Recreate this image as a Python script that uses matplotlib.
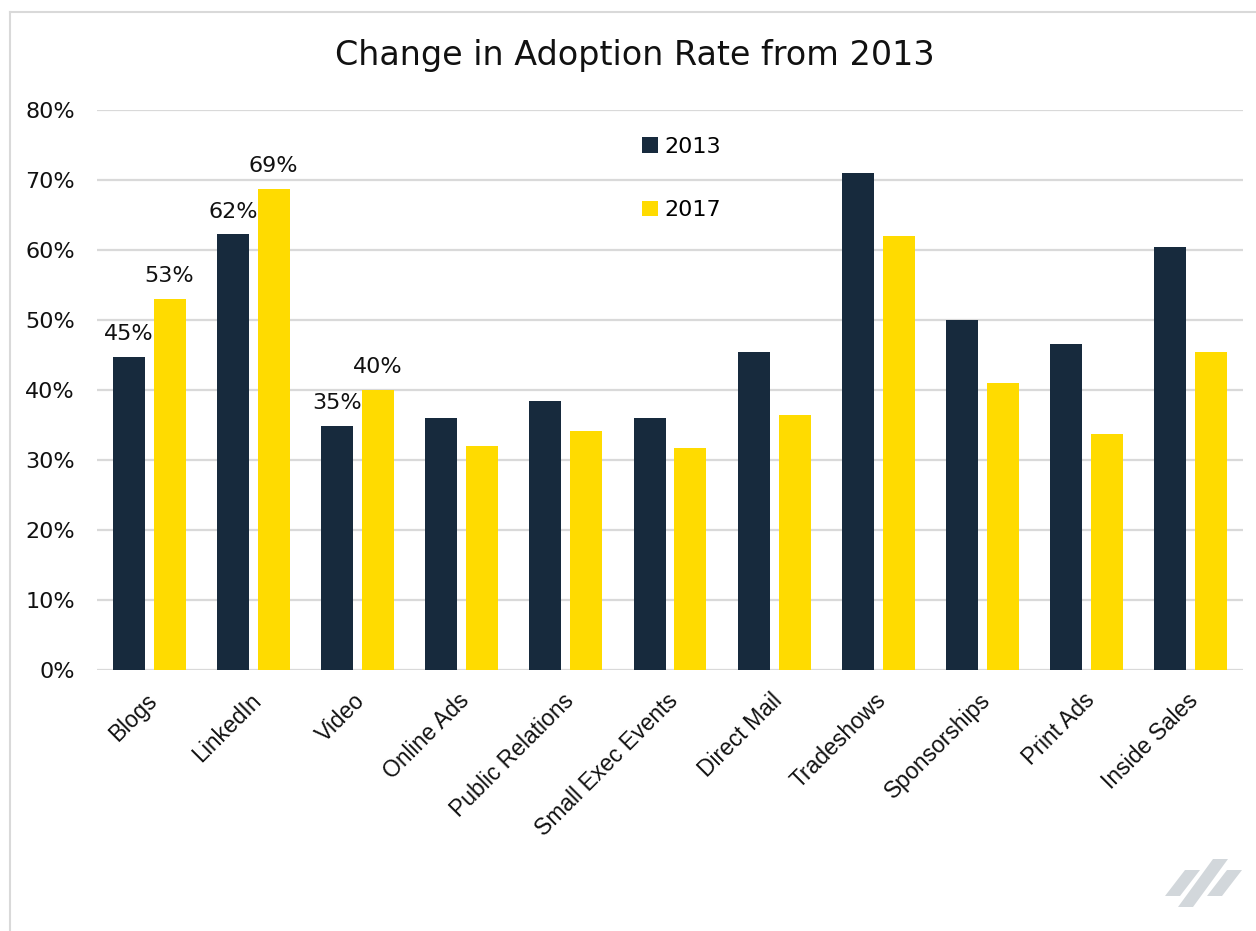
import matplotlib
matplotlib.use("Agg")
import matplotlib.pyplot as plt
import numpy as np
from matplotlib.patches import Patch, Polygon
from matplotlib.lines import Line2D
import matplotlib.transforms as mtransforms

categories = ["Blogs", "LinkedIn", "Video", "Online Ads", "Public Relations",
              "Small Exec Events", "Direct Mail", "Tradeshows", "Sponsorships",
              "Print Ads", "Inside Sales"]
values_2013 = [44.7, 62.2, 34.8, 36.0, 38.3, 36.0, 45.3, 70.9, 49.9, 46.5, 60.4]
values_2017 = [53.0, 68.7, 40.0, 31.9, 34.1, 31.7, 36.4, 61.9, 41.0, 33.6, 45.4]
labelled = ["Blogs", "LinkedIn", "Video"]
series_names = ["2013", "2017"]
yticks = [0, 10, 20, 30, 40, 50, 60, 70, 80]

DARK = "#172a3d"
YELLOW = "#ffdb00"
GRID = "#d9d9d9"
FONT = ["DejaVu Sans"]
XFONT = ["Liberation Sans", "DejaVu Sans"]

fig = plt.figure(figsize=(12.56, 9.31), dpi=100)
ax = fig.add_axes([97/1256, 1 - 669.5/931, 1146/1256, 560/931])

x = np.arange(len(categories))
w = 0.307
off = (w + 0.086) / 2
b1 = ax.bar(x - off, values_2013, w, color=DARK, zorder=3)
b2 = ax.bar(x + off, values_2017, w, color=YELLOW, zorder=3)

for i, c in enumerate(categories):
    if c in labelled:
        for xx, v in ((x[i] - off, values_2013[i]), (x[i] + off, values_2017[i])):
            ax.annotate(f"{round(v):.0f}%", (xx, v), xytext=(0, 9), textcoords="offset points",
                        ha="center", va="bottom", fontsize=16, family=FONT, color="#111111")

ax.set_xlim(-0.5, len(categories) - 0.5)
ax.set_ylim(0, 80)
ax.set_yticks(yticks)
ax.set_yticklabels([f"{t}%" for t in yticks], fontsize=16, family=FONT, color="#111111")
ax.yaxis.grid(True, color=GRID, linewidth=1.6, zorder=0)
ax.set_axisbelow(True)
ax.tick_params(axis="y", length=0, pad=16)
ax.tick_params(axis="x", length=0, pad=14)
ax.set_xticks(x)
ax.set_xticklabels(categories, rotation=45, ha="right", rotation_mode="anchor",
                   fontsize=16.5, family=XFONT, color="#111111")
shift = mtransforms.ScaledTranslation(-4/100, 0, fig.dpi_scale_trans)
for lab in ax.get_xticklabels():
    lab.set_transform(lab.get_transform() + shift)
for s in ax.spines.values():
    s.set_visible(False)

handles = [Patch(facecolor=DARK), Patch(facecolor=YELLOW)]
leg = ax.legend(handles, series_names, loc="upper left",
                bbox_to_anchor=((642 - 97)/1146, (669.5 - 137)/560),
                frameon=False, handlelength=0.7, handleheight=0.7, handletextpad=0.3,
                labelspacing=1.95, borderpad=0, borderaxespad=0,
                prop={"family": FONT, "size": 16})

fig.text(635/1256, 1 - 56/931, "Change in Adoption Rate from 2013", ha="center", va="center",
         fontsize=24, family=FONT, color="#111111")

# frame lines
fig.add_artist(Line2D([10/1256, 10/1256], [0, 1 - 12/931], transform=fig.transFigure,
                      color="#d9d9d9", linewidth=1.5))
fig.add_artist(Line2D([10/1256, 1], [1 - 12/931, 1 - 12/931], transform=fig.transFigure,
                      color="#d9d9d9", linewidth=1.5))

# logo
def fx(px):
    return px / 1256
def fy(py):
    return 1 - py / 931
logo_color = "#d2d7db"
polys = [
    [(1165, 896), (1180, 896), (1200, 870), (1185, 870)],
    [(1178, 907), (1193, 907), (1228, 859), (1213, 859)],
    [(1207, 896), (1222, 896), (1242, 870), (1227, 870)],
]
for p in polys:
    fig.add_artist(Polygon([(fx(a), fy(b)) for a, b in p], closed=True,
                           transform=fig.transFigure, facecolor=logo_color, edgecolor="none"))

fig.savefig("out.png", dpi=100, facecolor="white")
